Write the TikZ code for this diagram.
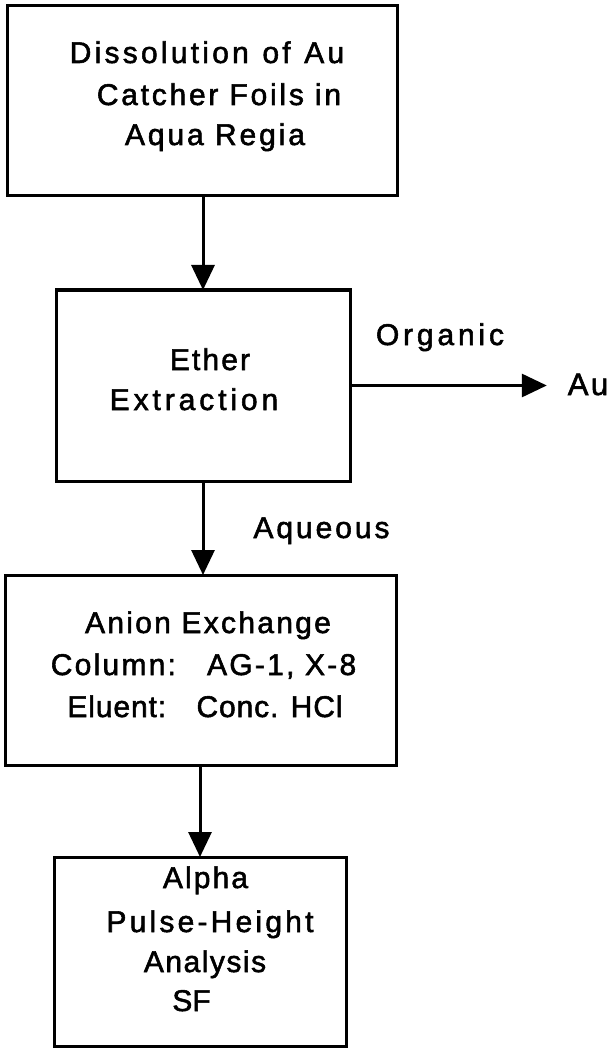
\documentclass[tikz,border=0pt]{standalone}
\usepackage{fontspec}
\setmainfont{Liberation Sans}[LetterSpace=10,FakeBold=1.8]
\usetikzlibrary{arrows.meta}
\newcommand{\trk}[1]{\addfontfeature{LetterSpace=#1}}
\begin{document}
\begin{tikzpicture}[x=1pt,y=-1pt,
  box/.style={draw,line width=3pt,inner sep=0pt,outer sep=0pt},
  lbl/.style={anchor=base,inner sep=0pt,outer sep=0pt,font=\fontsize{30pt}{30pt}\selectfont},
  arr/.style={line width=3pt,-{Triangle[width=23pt,length=25pt]}}]
\useasboundingbox (0,0) rectangle (613,1048);
% boxes
\node[box,minimum width=390pt,minimum height=190pt] (b1) at (202.5,101) {};
\node[box,minimum width=294pt,minimum height=191pt] (b2) at (203,385.5) {};
\node[box,minimum width=391pt,minimum height=190pt] (b3) at (200.5,670) {};
\node[box,minimum width=292pt,minimum height=189pt] (b4) at (200,951.5) {};
% box texts
\node[lbl] (t1a) at (207,63) {\trk{10.8}Dissolution\hspace{2pt} of\hspace{2pt} Au};
\node[lbl] (t1b) at (219,105) {\trk{9.2}Catcher Foils in};
\node[lbl] (t1c) at (215,145) {\trk{9.7}Aqua Regia};
\node[lbl] (t2a) at (210,370) {\trk{7}Ether};
\node[lbl] (t2b) at (194,410) {\trk{13}Extraction};
\node[lbl] (t3a) at (208,633) {\trk{7.6}Anion Exchange};
\node[lbl] (t3b) at (203.5,675) {\trk{7.5}Column:\hspace{17pt} AG-1, X-8};
\node[lbl] (t3c) at (205,717) {\trk{3}Eluent:\hspace{18pt} Conc. HCl};
\node[lbl] (t4a) at (205.5,888) {\trk{7}Alpha};
\node[lbl] (t4b) at (210,932) {\trk{10.7}Pulse-Height};
\node[lbl] (t4c) at (205,972) {\trk{5}Analysis};
\node[lbl] (t4d) at (191.5,1011) {\trk{0}SF};
% side labels
\node[lbl] (org) at (440,345) {\trk{12.8}Organic};
\node[lbl] (aq) at (321.5,538) {\trk{9.8}Aqueous};
\node[lbl,font=\fontsize{31pt}{31pt}\selectfont] (au) at (588,395) {\trk{8}Au};
% connectors
\draw[arr] (b2.north |- b1.south) -- (b2.north);
\draw[arr] (b2.south) -- (b2.south |- b3.north);
\draw[arr] (b3.south -| b4.north) -- (b4.north);
\draw[arr,shorten >=21pt] (b2.east) -- (b2.east -| au.west);
\end{tikzpicture}
\end{document}
